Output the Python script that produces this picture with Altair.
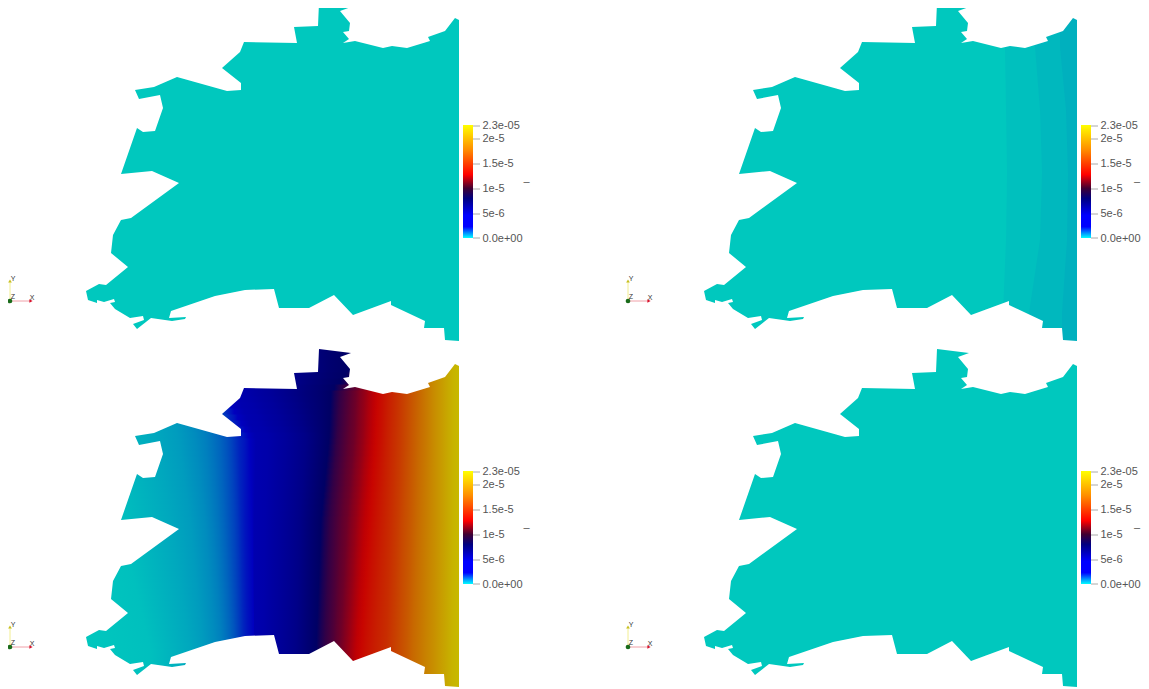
import altair as alt
import pandas as pd

alt.data_transformers.disable_max_rows()

# Domain outline of the first view, in picture pixels, read clockwise from the top tab
OUTLINE_X = [319,351,340,350,349,343,349,343,355,383,392,407,430,428,445,455,459,459,445,444,424,425,391,391,353,334,309,279,274,245,215,171,169,186,185,172,151,137,133,144,143,130,115,110,115,114,104,97,97,88,86,99,106,128,111,113,121,131,179,152,121,137,143,155,163,160,139,135,154,177,227,241,241,222,240,244,297,294,318]
OUTLINE_Y = [3,7,11,23,31,32,39,43,41,48,46,48,41,37,31,18,20,341,340,328,328,321,305,301,315,295,308,308,289,290,296,311,318,317,319,321,318,329,324,320,316,318,309,303,302,299,302,300,303,300,291,284,285,267,253,235,220,218,183,171,174,128,132,131,108,95,99,90,87,77,91,90,83,68,52,42,43,27,26]

VIEW_DX = [0, 618, 0, 618]
VIEW_DY = [0, 0, 346, 346]

# View 2: flat colour bands; x of each band's left contour at five heights
BAND_Y = [47, 110, 174, 240, 313]
BAND_T = [0.0, 0.004, 0.008, 0.012]
BAND_X = [
    [80, 80, 80, 80, 80],
    [387, 388, 389, 388, 385],
    [417, 422, 424, 422, 411],
    [442, 448, 450, 449, 444],
]

# View 3: contour table, value (fraction of range) and x at five heights
CONTOUR_Y = [25, 45, 92, 174, 304]
C_T = [0.0, .004, .010, .016, .022, .030, .036, .042, .050, .058, .066, .074, .082, .090, .100, .142, .156, .180, .197, .225, .253, .285, .320, .350,
       .37, .39, .41, .43, .45, .47, .49, .51, .53, .55, .57, .59, .62, .65, .68, .71, .74, .77, .80, .83, .86, .89, .92, .95, .97]
C_0 = [80, 95, 125, 150, 170, 185, 195, 200, 207, 210, 213, 216, 218, 220, 222, 235, 245, 258, 268, 280, 300, 315, 330, 350,
       356, 360, 362, 364, 366, 368, 370, 372, 374, 376, 378, 383, 389, 396, 402, 408, 414, 420, 425, 430, 435, 441, 447, 453, 461]
C_1 = [80, 95, 125, 150, 170, 185, 195, 200, 207, 210, 213, 216, 218, 220, 222, 235, 245, 258, 268, 280, 292, 305, 320, 331,
       335, 340, 344, 348, 352, 356, 360, 365, 369, 374, 378, 383, 389, 396, 402, 408, 414, 420, 425, 430, 435, 441, 447, 453, 461]
C_2 = [80, 100, 130, 155, 178, 195, 205, 212, 220, 226, 231, 235, 239, 245, 250, 256, 268, 278, 286, 296, 306, 314, 322, 329,
       333, 337, 341, 345, 349, 354, 358, 363, 367, 372, 376, 381, 387, 394, 401, 407, 413, 419, 425, 430, 435, 441, 447, 453, 461]
C_3 = [80, 120, 145, 170, 190, 205, 212, 218, 224, 229, 234, 238, 241, 245, 252, 254, 265, 274, 281, 291, 300, 307, 314, 321,
       325, 330, 334, 338, 342, 347, 351, 356, 360, 365, 370, 375, 383, 391, 398, 404, 411, 417, 423, 429, 435, 441, 447, 453, 461]
C_4 = [80, 150, 170, 190, 203, 215, 222, 226, 231, 235, 238, 241, 244, 248, 254, 254, 263, 271, 277, 287, 296, 303, 310, 316,
       320, 325, 329, 333, 336, 340, 344, 348, 352, 356, 361, 366, 375, 386, 393, 400, 407, 413, 420, 426, 433, 439, 446, 452, 461]
CONTOURS = [C_0, C_1, C_2, C_3, C_4]

# Colour map: as shaded on the surface, and as drawn in the colour bar
MAP_T = [0, .1, .35, .39, .47, .56, .78, 1]
MAP_SHADED = [(0, 200, 190), (0, 0, 190), (0, 0, 100), (50, 0, 70), (110, 0, 40), (200, 0, 0), (200, 110, 0), (199, 199, 0)]
BAR_T = [0, .1, .2, .35, .44, .56, .78, 1]
BAR_COLORS = ["#00ffff", "#0000ff", "#0000ff", "#000080", "#400032", "#ff0000", "#ff8c00", "#ffff00"]

TICK_LABELS = ["2.3e-05", "2e-5", "1.5e-5", "1e-5", "5e-6", "0.0e+00"]
TICK_Y = [126, 139, 164, 189, 214, 238]
LABEL_Y = [125.5, 139, 164, 189, 214, 239]
UNIT_X = [526.5, 519, 526.5, 519]

# Orientation triad
TRIAD_NAMES = ["X", "Y", "Z"]
TRIAD_LABEL_X = [32, 13, 13]
TRIAD_LABEL_Y = [298, 279, 297]

X_MIN, X_MAX, Y_MIN, Y_MAX = 8, 1141, 8, 689
FIELD_LEFT, FIELD_RIGHT, FIELD_TOP, FIELD_BOTTOM = 80, 461, 2.5, 345
ROW = 6


def lerp(v, xs, ys):
    if v <= xs[0]:
        return ys[0]
    for i in range(1, len(xs)):
        if v <= xs[i]:
            f = (v - xs[i - 1]) / (xs[i] - xs[i - 1])
            return ys[i - 1] + f * (ys[i] - ys[i - 1])
    return ys[-1]


def shaded(t):
    rgb = [lerp(t, MAP_T, [c[k] for c in MAP_SHADED]) for k in range(3)]
    return "#%02x%02x%02x" % tuple(int(round(c)) for c in rgb)


X = alt.X("x:Q", axis=None, scale=alt.Scale(domain=[X_MIN, X_MAX], nice=False, zero=False))
Y = alt.Y("y:Q", axis=None, scale=alt.Scale(domain=[Y_MAX, Y_MIN], nice=False, zero=False))

band_rows, mask_rows, tick_rows, label_rows, bar_rows = [], [], [], [], []
triad_text, unit_rows, rule_rows, dot_rows, cone_rows = [], [], [], [], []

# Flat-coloured views 1, 2 and 4
for v, ts in [(0, BAND_T[:1]), (1, BAND_T), (3, BAND_T[:1])]:
    dx, dy = VIEW_DX[v], VIEW_DY[v]
    for i, t in enumerate(ts):
        xs = BAND_X[i]
        pts = [(xs[0], FIELD_TOP)] + list(zip(xs, BAND_Y)) + [(xs[-1], FIELD_BOTTOM),
               (FIELD_RIGHT, FIELD_BOTTOM), (FIELD_RIGHT, FIELD_TOP)]
        for k, (x, y) in enumerate(pts):
            band_rows.append(dict(id=v * 1000 + i, ord=k, x=x + dx, y=y + dy, c=shaded(t)))

bands = alt.Chart(pd.DataFrame(band_rows)).mark_line(strokeWidth=0).encode(
    x=X, y=Y, detail="id:N", order="ord:Q", fill=alt.Fill("c:N", scale=None)
)

# View 3: one row of horizontal colour ramp per pixel band, its stops taken from the contour table
field_rows = []
y0 = FIELD_TOP
while y0 < FIELD_BOTTOM:
    mid = y0 + ROW / 2
    xs = [lerp(mid, CONTOUR_Y, [col[i] for col in CONTOURS]) for i in range(len(C_T))]
    stops = []
    for t, x in zip(C_T, xs):
        off = min(1, max(0, (x - FIELD_LEFT) / (FIELD_RIGHT - FIELD_LEFT)))
        if stops and off <= stops[-1]["offset"]:
            off = min(1, stops[-1]["offset"] + 0.0005)
        stops.append(dict(offset=off, color=shaded(t)))
    grad = dict(gradient="linear", x1=0, x2=1, y1=0, y2=0, stops=stops)
    row = pd.DataFrame([dict(x=FIELD_LEFT + VIEW_DX[2], x2=FIELD_RIGHT + VIEW_DX[2],
                             y=y0 + VIEW_DY[2], y2=min(y0 + ROW + 1, FIELD_BOTTOM) + VIEW_DY[2])])
    field_rows.append(alt.Chart(row).mark_rect(color=grad).encode(x=X, x2="x2:Q", y=Y, y2="y2:Q"))
    y0 += ROW

for v in range(4):
    dx, dy = VIEW_DX[v], VIEW_DY[v]
    inner = list(zip(OUTLINE_X, OUTLINE_Y))
    sx, sy = inner[0]
    inner = [inner[0]] + inner[1:][::-1] + [inner[0]]
    frame_a = [(79, 0), (sx, 0)]
    frame_b = [(sx, 0), (462, 0), (462, 347), (79, 347)]
    for k, (x, y) in enumerate(frame_a + inner + frame_b):
        mask_rows.append(dict(id=v, ord=k, x=x + dx, y=y + dy))
    bar_rows.append(dict(x=463 + dx, x2=473 + dx, y=125 + dy, y2=238 + dy))
    for lab, y, ly in zip(TICK_LABELS, TICK_Y, LABEL_Y):
        tick_rows.append(dict(x=473 + dx, x2=480 + dx, y=y + dy))
        label_rows.append(dict(x=482.5 + dx, y=ly + dy, label=lab))
    unit_rows.append(dict(x=UNIT_X[v] + dx, y=182 + dy, label="–"))
    for name, lx, ly in zip(TRIAD_NAMES, TRIAD_LABEL_X, TRIAD_LABEL_Y):
        triad_text.append(dict(x=lx + dx, y=ly + dy, label=name))
    rule_rows.append(dict(x=10 + dx, x2=31 + dx, y=301 + dy, y2=301 + dy, c="#f0a0a8"))
    rule_rows.append(dict(x=10 + dx, x2=10 + dx, y=301 + dy, y2=282 + dy, c="#f2ee90"))
    dot_rows.append(dict(x=10 + dx, y=301 + dy))
    cone_rows.append(dict(x=31 + dx, y=301 + dy, s="triangle-right", c="#d8102a"))
    cone_rows.append(dict(x=10 + dx, y=281 + dy, s="triangle-up", c="#c8c020"))

mask = alt.Chart(pd.DataFrame(mask_rows)).mark_line(strokeWidth=0, fill="white").encode(
    x=X, y=Y, detail="id:N", order="ord:Q"
)
bar_gradient = dict(gradient="linear", x1=0, x2=0, y1=1, y2=0,
                    stops=[dict(offset=o, color=c) for o, c in zip(BAR_T, BAR_COLORS)])
bars = alt.Chart(pd.DataFrame(bar_rows)).mark_rect(color=bar_gradient).encode(x=X, x2="x2:Q", y=Y, y2="y2:Q")
ticks = alt.Chart(pd.DataFrame(tick_rows)).mark_rule(color="#aaaaaa", strokeWidth=1).encode(x=X, x2="x2:Q", y=Y)
labels = alt.Chart(pd.DataFrame(label_rows)).mark_text(
    align="left", baseline="middle", font="Liberation Sans", fontSize=11, color="#555555"
).encode(x=X, y=Y, text="label:N")
unit = alt.Chart(pd.DataFrame(unit_rows)).mark_text(
    align="center", baseline="middle", font="Liberation Sans", fontSize=11, color="#555555"
).encode(x=X, y=Y, text="label:N")
axes = alt.Chart(pd.DataFrame(rule_rows)).mark_rule(strokeWidth=1).encode(
    x=X, x2="x2:Q", y=Y, y2="y2:Q", color=alt.Color("c:N", scale=None)
)
dots = alt.Chart(pd.DataFrame(dot_rows)).mark_point(filled=True, size=22, color="#1a6b1a", opacity=1).encode(x=X, y=Y)
cones = alt.Chart(pd.DataFrame(cone_rows)).mark_point(filled=True, size=14, opacity=1).encode(
    x=X, y=Y, shape=alt.Shape("s:N", scale=None), color=alt.Color("c:N", scale=None)
)
triad = alt.Chart(pd.DataFrame(triad_text)).mark_text(
    align="center", baseline="middle", font="Liberation Sans", fontSize=7, color="#333333"
).encode(x=X, y=Y, text="label:N")

chart = alt.layer(
    bands, *field_rows, mask, bars, ticks, labels, unit, axes, dots, cones, triad
).properties(
    width=X_MAX - X_MIN, height=Y_MAX - Y_MIN, padding=0,
    autosize=alt.AutoSizeParams(type="none"),
).configure_view(stroke=None)

chart.save("out.html", embed_options={"renderer": "svg", "actions": False})
